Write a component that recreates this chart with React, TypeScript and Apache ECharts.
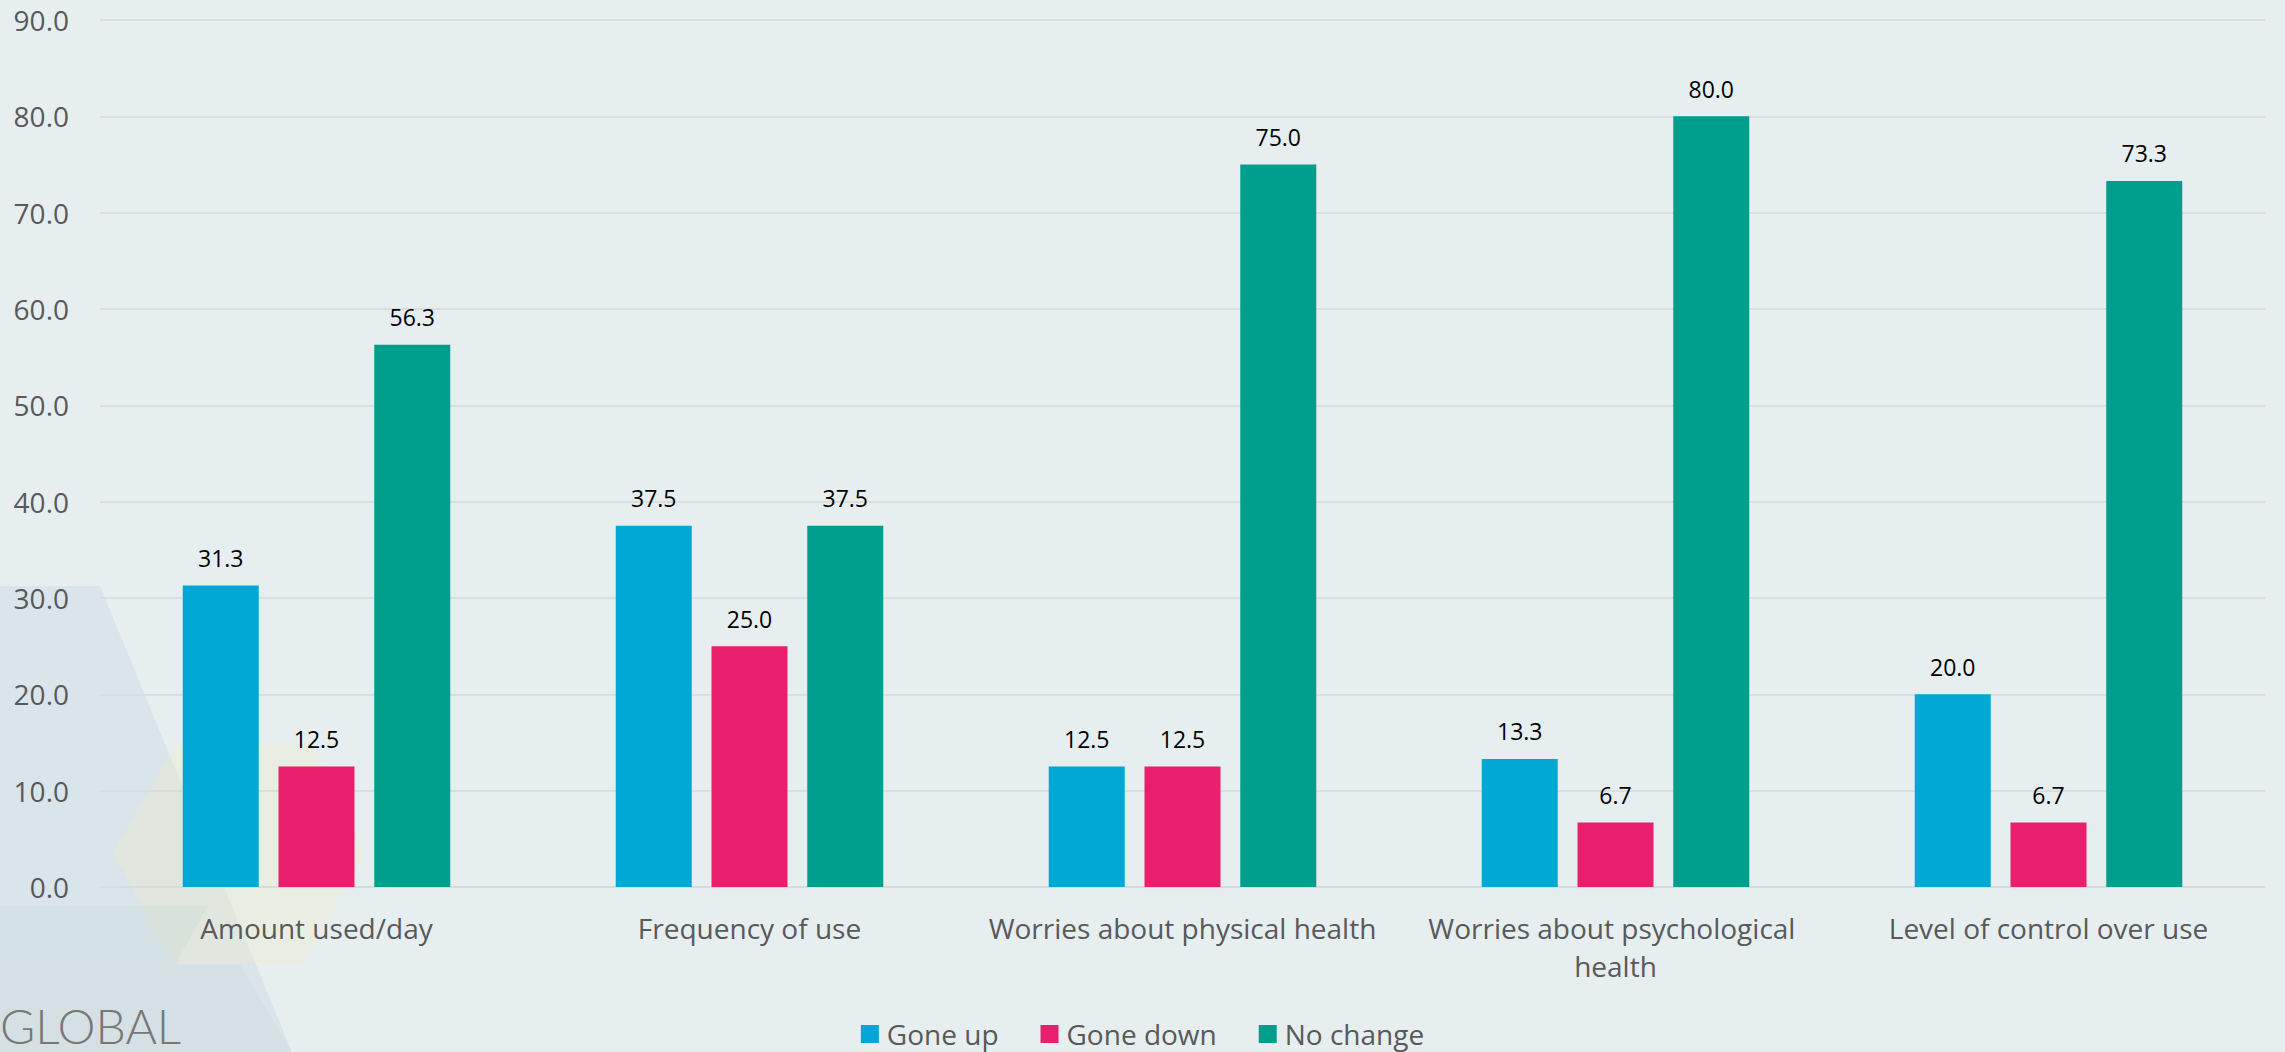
import React, { useEffect, useRef } from "react";
import * as echarts from "echarts";

const categories = [
  "Amount used/day",
  "Frequency of use",
  "Worries about physical health",
  "Worries about psychological health",
  "Level of control over use",
];
const goneUp = [31.3, 37.5, 12.5, 13.3, 20.0];
const goneDown = [12.5, 25.0, 12.5, 6.7, 6.7];
const noChange = [56.3, 37.5, 75.0, 80.0, 73.3];
const seriesNames = ["Gone up", "Gone down", "No change"];
const colors = ["#01A8D6", "#E91F6D", "#009E8C"];
const yTicks = { min: 0, max: 90, interval: 10 };

const FONT = "'Open Sans', 'Noto Sans', sans-serif";

export default function App() {
  const ref = useRef<HTMLDivElement>(null);
  useEffect(() => {
    document.body.style.margin = "0";
    const chart = echarts.init(ref.current!, null, { renderer: "svg" });
    const seriesData = [goneUp, goneDown, noChange];
    chart.setOption({
      animation: false,
      backgroundColor: "#E6EEF0",
      textStyle: { fontFamily: FONT },
      grid: { left: 100, right: 20, top: 20, bottom: 165 },
      legend: {
        data: seriesNames,
        left: "center",
        top: 1014,
        icon: "rect",
        itemWidth: 18,
        itemHeight: 18,
        itemGap: 42,
        textStyle: {
          fontSize: 28,
          lineHeight: 30,
          color: "#595959",
          fontFamily: FONT,
          padding: [0, 0, 0, 3],
        },
      },
      graphic: [
        {
          type: "polygon",
          silent: true,
          z: -10,
          shape: { points: [[0, 586], [100, 586], [292, 1052], [0, 1052]] },
          style: { fill: "rgba(185,210,224,0.28)" },
        },
        {
          type: "polygon",
          silent: true,
          z: -9,
          shape: { points: [[113, 853], [175, 745], [312, 745], [364, 853], [302, 963], [173, 963]] },
          style: { fill: "rgba(238,234,200,0.35)" },
        },
        {
          type: "polygon",
          silent: true,
          z: -8,
          shape: { points: [[0, 906], [208, 906], [175, 965], [0, 965]] },
          style: { fill: "rgba(175,200,195,0.16)" },
        },
        {
          type: "polygon",
          silent: true,
          z: -8,
          shape: { points: [[0, 965], [240, 965], [292, 1052], [0, 1052]] },
          style: { fill: "rgba(175,200,190,0.14)" },
        },
        {
          type: "text",
          silent: true,
          left: 0,
          top: 1001,
          style: {
            text: "GLOBAL",
            fontSize: 48,
            fontWeight: 300,
            fontFamily: "Lato, 'Open Sans', sans-serif",
            fill: "#777777",
          },
        },
      ],
      xAxis: {
        type: "category",
        data: categories,
        axisLine: { show: true, lineStyle: { color: "#D9D9D9", width: 1.5 } },
        axisTick: { show: false },
        axisLabel: {
          interval: 0,
          margin: 22,
          fontSize: 28,
          lineHeight: 38,
          color: "#595959",
          fontFamily: FONT,
          width: 433,
          overflow: "break",
        },
      },
      yAxis: {
        type: "value",
        min: yTicks.min,
        max: yTicks.max,
        interval: yTicks.interval,
        axisLine: { show: false },
        axisTick: { show: false },
        splitLine: { lineStyle: { color: "#D9D9D9", width: 1.5 } },
        axisLabel: {
          margin: 31,
          fontSize: 28,
          color: "#595959",
          fontFamily: FONT,
          formatter: (v: number) => v.toFixed(1),
        },
      },
      series: seriesNames.map((name, i) => ({
        name,
        type: "bar",
        data: seriesData[i],
        barWidth: 76,
        barGap: "26%",
        itemStyle: { color: colors[i] },
        label: {
          show: true,
          position: "top",
          distance: 16,
          fontSize: 23,
          color: "#000000",
          fontFamily: FONT,
          formatter: (p: any) => Number(p.value).toFixed(1),
        },
      })),
    });
    return () => chart.dispose();
  }, []);
  return (
    <div
      ref={ref}
      style={{ position: "absolute", left: 0, top: 0, width: 2285, height: 1052 }}
    />
  );
}
